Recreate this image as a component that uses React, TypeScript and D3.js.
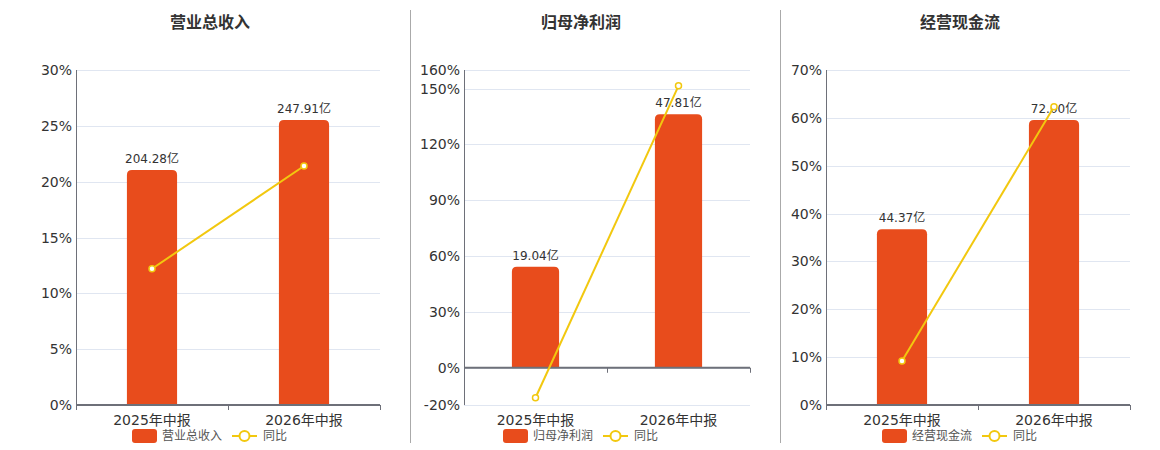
import { useEffect, useRef } from 'react'
import * as d3 from 'd3'

// data
const categories = ['2025年中报', '2026年中报']

const revenueValues = [204.28, 247.91]
const revenueYoy = [12.2, 21.4]
const revenueTicks = [0, 5, 10, 15, 20, 25, 30]

const profitValues = [19.04, 47.81]
const profitYoy = [-16.1, 151.5]
const profitTicks = [-20, 0, 30, 60, 90, 120, 150, 160]

const cashValues = [44.37, 72.0]
const cashYoy = [9.2, 62.3]
const cashTicks = [0, 10, 20, 30, 40, 50, 60, 70]

const titles = ['营业总收入', '归母净利润', '经营现金流']

const BAR_COLOR = '#e84c1c'
const LINE_COLOR = '#f2c80f'
const TEXT_COLOR = '#333'
const FONT = '"DejaVu Sans", "Noto Sans CJK SC", sans-serif'

interface Panel {
  title: string
  values: number[]
  yoy: number[]
  ticks: number[]
  left: number
  right: number
  center: number
}

const panels: Panel[] = [
  { title: titles[0], values: revenueValues, yoy: revenueYoy, ticks: revenueTicks, left: 76, right: 380, center: 210 },
  { title: titles[1], values: profitValues, yoy: profitYoy, ticks: profitTicks, left: 464, right: 750, center: 581 },
  { title: titles[2], values: cashValues, yoy: cashYoy, ticks: cashTicks, left: 826, right: 1130, center: 960 },
]

const width = 1160
const height = 450
const plotTop = 70
const plotBottom = 405

// bar path with rounded top corners
function barPath(x: number, y: number, w: number, h: number, r: number) {
  const rr = Math.min(r, h / 2, w / 2)
  return `M${x},${y + h} V${y + rr} Q${x},${y} ${x + rr},${y} H${x + w - rr} Q${x + w},${y} ${x + w},${y + rr} V${y + h} Z`
}

export default function App() {
  const svgRef = useRef<SVGSVGElement>(null)

  useEffect(() => {
    if (!svgRef.current) return
    const svg = d3.select(svgRef.current)
    svg.selectAll('*').remove()

    // divider lines between panels
    ;[410, 780].forEach(x => {
      svg.append('line')
        .attr('x1', x + 0.5).attr('x2', x + 0.5)
        .attr('y1', 10).attr('y2', 443)
        .attr('stroke', '#aaa')
        .attr('stroke-width', 1)
    })

    panels.forEach(p => {
      const g = svg.append('g')

      const yMin = d3.min(p.ticks) as number
      const yMax = d3.max(p.ticks) as number
      const y = d3.scaleLinear().domain([yMin, yMax]).range([plotBottom, plotTop])
      const zeroY = y(0)

      const x = d3.scaleBand<string>()
        .domain(categories)
        .range([p.left, p.right])

      // hidden axis for the bars, shares the zero line
      const barMax = (d3.max(p.values) as number) * 1.175
      const yBar = d3.scaleLinear().domain([0, barMax]).range([zeroY, plotTop])

      // title
      g.append('text')
        .attr('x', p.center)
        .attr('y', 28)
        .attr('text-anchor', 'middle')
        .attr('font-family', FONT)
        .attr('font-size', 16)
        .attr('font-weight', 'bold')
        .attr('fill', TEXT_COLOR)
        .text(p.title)

      // grid lines
      p.ticks.forEach(t => {
        g.append('line')
          .attr('x1', p.left).attr('x2', p.right)
          .attr('y1', Math.round(y(t)) + 0.5).attr('y2', Math.round(y(t)) + 0.5)
          .attr('stroke', '#e0e6f1')
          .attr('stroke-width', 1)
      })

      // y tick labels
      p.ticks.forEach(t => {
        g.append('text')
          .attr('x', p.left - 4)
          .attr('y', y(t))
          .attr('dy', '0.36em')
          .attr('text-anchor', 'end')
          .attr('font-family', FONT)
          .attr('font-size', 14)
          .attr('fill', TEXT_COLOR)
          .text(`${t}%`)
      })

      // bars
      const bw = x.bandwidth() * 0.33
      p.values.forEach((v, i) => {
        const cx = (x(categories[i]) as number) + x.bandwidth() / 2
        const top = yBar(v)
        g.append('path')
          .attr('d', barPath(cx - bw / 2, top, bw, zeroY - top, 5))
          .attr('fill', BAR_COLOR)

        g.append('text')
          .attr('x', cx)
          .attr('y', top - 7)
          .attr('text-anchor', 'middle')
          .attr('font-family', FONT)
          .attr('font-size', 12)
          .attr('fill', TEXT_COLOR)
          .text(`${v.toFixed(2)}亿`)
      })

      // left axis line
      g.append('line')
        .attr('x1', p.left + 0.5).attr('x2', p.left + 0.5)
        .attr('y1', plotTop).attr('y2', plotBottom)
        .attr('stroke', '#6e7079')
        .attr('stroke-width', 1)

      // x axis at zero
      g.append('line')
        .attr('x1', p.left).attr('x2', p.right)
        .attr('y1', zeroY).attr('y2', zeroY)
        .attr('stroke', '#6e7079')
        .attr('stroke-width', 2)

      const bounds = [p.left, ...categories.map(c => (x(c) as number) + x.bandwidth())]
      bounds.forEach(bx => {
        g.append('line')
          .attr('x1', bx + 0.5).attr('x2', bx + 0.5)
          .attr('y1', zeroY).attr('y2', zeroY + 5)
          .attr('stroke', '#6e7079')
          .attr('stroke-width', 1)
      })

      // category labels
      categories.forEach(c => {
        g.append('text')
          .attr('x', (x(c) as number) + x.bandwidth() / 2)
          .attr('y', 425)
          .attr('text-anchor', 'middle')
          .attr('font-family', FONT)
          .attr('font-size', 14)
          .attr('fill', TEXT_COLOR)
          .text(c)
      })

      // yoy line
      const pts: [number, number][] = p.yoy.map((v, i) => [
        (x(categories[i]) as number) + x.bandwidth() / 2,
        y(v),
      ])
      g.append('path')
        .attr('d', d3.line()(pts) as string)
        .attr('fill', 'none')
        .attr('stroke', LINE_COLOR)
        .attr('stroke-width', 2)

      pts.forEach(pt => {
        g.append('circle')
          .attr('cx', pt[0]).attr('cy', pt[1])
          .attr('r', 3)
          .attr('fill', '#fff')
          .attr('stroke', LINE_COLOR)
          .attr('stroke-width', 1.5)
      })

      // legend
      const lx = p.center - 78
      const ly = 436
      g.append('rect')
        .attr('x', lx).attr('y', ly - 7)
        .attr('width', 25).attr('height', 14)
        .attr('rx', 3)
        .attr('fill', BAR_COLOR)
      g.append('text')
        .attr('x', lx + 30)
        .attr('y', ly)
        .attr('dy', '0.36em')
        .attr('font-family', FONT)
        .attr('font-size', 12)
        .attr('fill', '#555')
        .text(p.title)
      g.append('line')
        .attr('x1', lx + 100).attr('x2', lx + 125)
        .attr('y1', ly).attr('y2', ly)
        .attr('stroke', LINE_COLOR)
        .attr('stroke-width', 2)
      g.append('circle')
        .attr('cx', lx + 112.5).attr('cy', ly)
        .attr('r', 5)
        .attr('fill', '#fff')
        .attr('stroke', LINE_COLOR)
        .attr('stroke-width', 2)
      g.append('text')
        .attr('x', lx + 131)
        .attr('y', ly)
        .attr('dy', '0.36em')
        .attr('font-family', FONT)
        .attr('font-size', 12)
        .attr('fill', '#555')
        .text('同比')
    })
  }, [])

  return (
    <svg
      ref={svgRef}
      width={width}
      height={height}
      style={{ position: 'absolute', left: 0, top: 0, background: '#fff' }}
    />
  )
}
